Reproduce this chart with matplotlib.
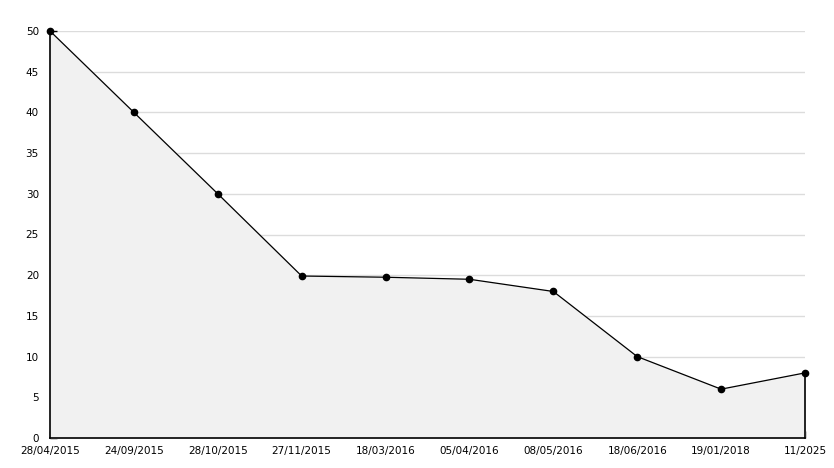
import matplotlib
matplotlib.use("Agg")
import matplotlib.pyplot as plt
from matplotlib.ticker import MultipleLocator

dates = ["28/04/2015", "24/09/2015", "28/10/2015", "27/11/2015", "18/03/2016",
         "05/04/2016", "08/05/2016", "18/06/2016", "19/01/2018", "11/2025"]
values = [50, 40, 30, 19.9, 19.75, 19.5, 18, 10, 6, 8]

fig = plt.figure(figsize=(8.34, 4.68), dpi=100)
ax = fig.add_axes([50/834, 1-438/468, 755/834, 407/468])
x = list(range(len(dates)))

ax.fill_between(x, values, 0, color="#f1f1f1", zorder=1)
ax.plot(x, values, color="black", lw=0.9, marker="o", ms=4.5, zorder=5, clip_on=False)
ax.plot([x[-1], x[-1]], [0, values[-1]], color="black", lw=1.2, zorder=3, clip_on=False)

ax.set_xlim(0, len(dates) - 1)
ax.set_ylim(0, 50)
ax.set_xticks(x)
ax.set_xticklabels(dates)
ax.yaxis.set_major_locator(MultipleLocator(5))
ax.yaxis.set_minor_locator(MultipleLocator(1))
ax.grid(axis="y", which="major", color="#dcdcdc", lw=1, zorder=0)
ax.set_axisbelow(True)
for s in ["top", "right"]:
    ax.spines[s].set_visible(False)
for s in ["left", "bottom"]:
    ax.spines[s].set_linewidth(1.2)
    ax.spines[s].set_zorder(4)
ax.tick_params(axis="both", which="major", direction="in", length=5, width=1,
               labelsize=7.5, colors="black")
ax.tick_params(axis="y", which="minor", direction="in", length=4, width=1)
ax.tick_params(axis="x", pad=6)
ax.tick_params(axis="y", pad=8)
for lbl in ax.get_yticklabels():
    pass

fig.savefig("out.png", dpi=100)
